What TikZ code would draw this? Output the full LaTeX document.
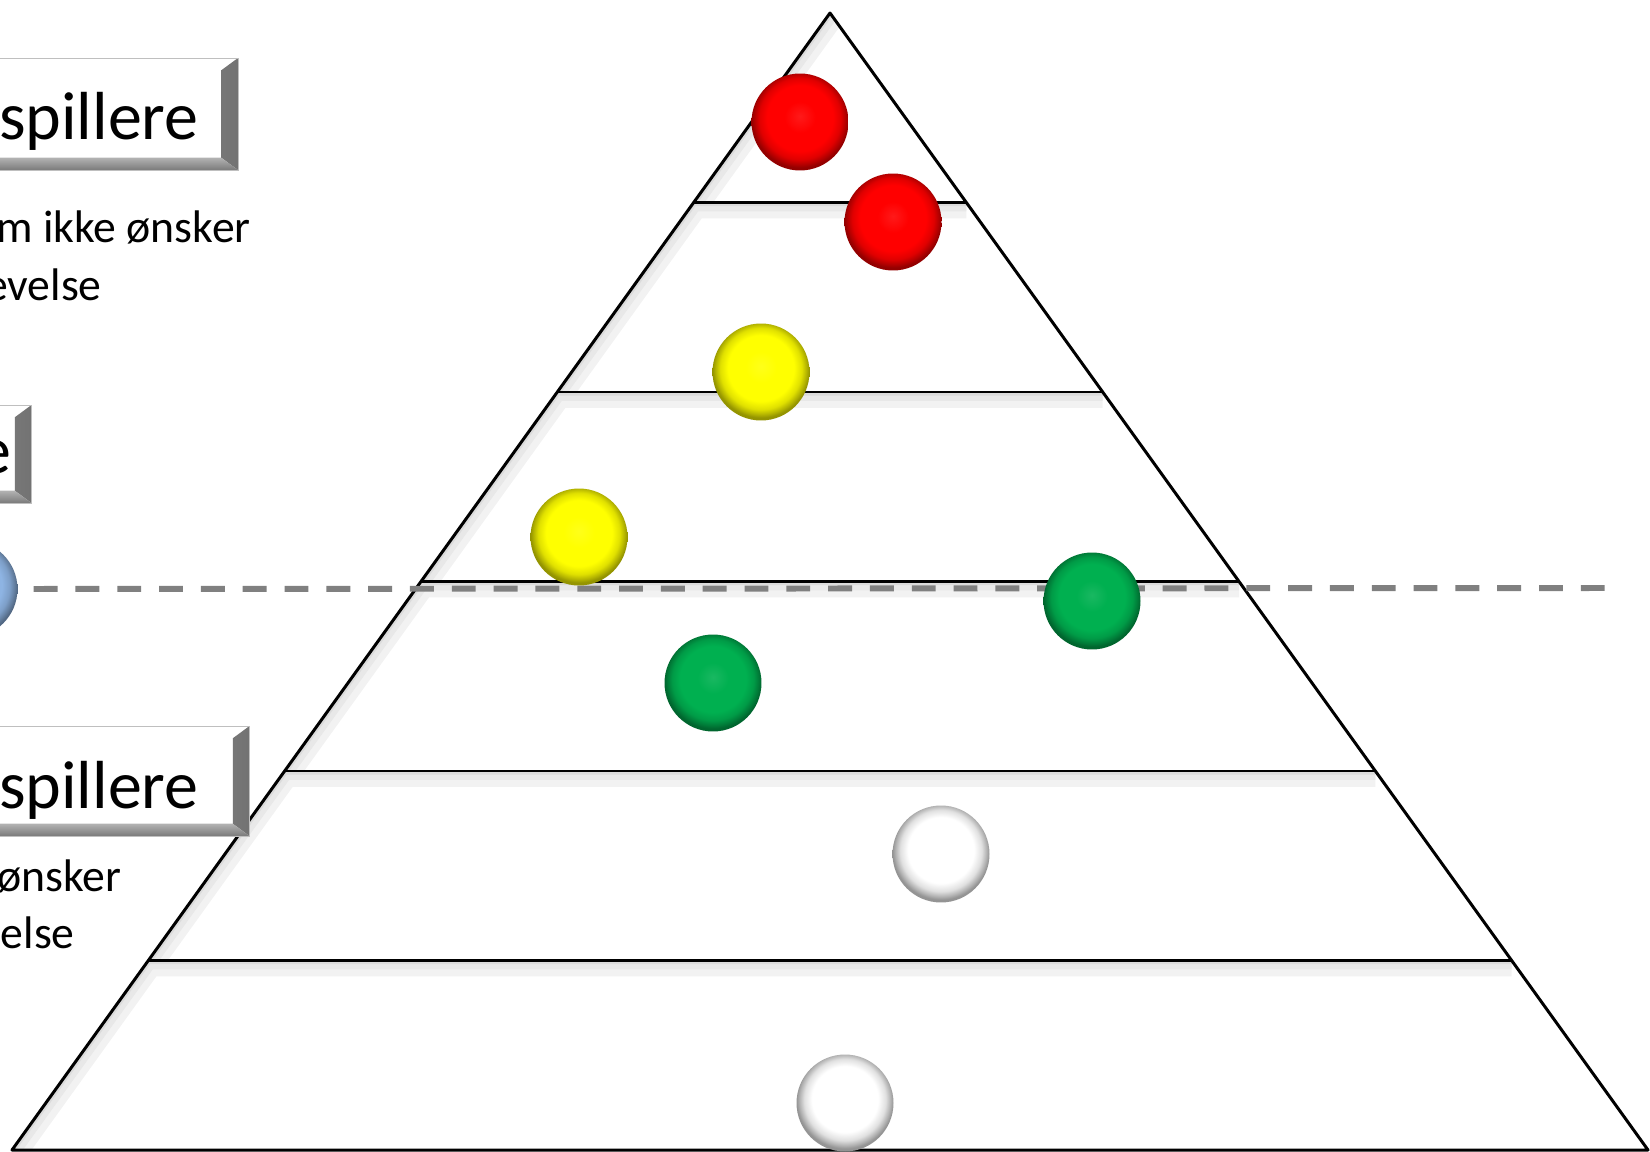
\documentclass[tikz,border=0pt]{standalone}
\usepackage{fontspec}
\setmainfont{Carlito}
\usetikzlibrary{positioning,calc}
\definecolor{ballblue}{RGB}{142,180,227}
\definecolor{ballgreen}{RGB}{0,176,80}
\definecolor{ballred}{RGB}{255,0,0}
\definecolor{ballyellow}{RGB}{255,255,0}
\definecolor{ballwhite}{RGB}{255,255,255}
% glossy button: flat face, darker rim towards the bottom (circle edge = 25bp)
\pgfdeclareradialshading[btncol]{button}{\pgfpoint{0bp}{3bp}}{%
  color(0bp)=(btncol!90!white); color(8bp)=(btncol); color(17bp)=(btncol);
  color(21bp)=(btncol!88!black); color(23.5bp)=(btncol!70!black); color(25bp)=(btncol!58!black);
  color(50bp)=(btncol!58!black)}
\tikzset{
  pyr/.style={line width=1.7pt,black,line join=round},
  tiershade/.style={line width=18pt,black!5,
    postaction={draw,line width=10pt,black!9},
    postaction={draw,line width=4pt,black!14}},
  dashline/.style={draw=black!50,line width=3.4pt,dash pattern=on 13.6pt off 10.2pt},
  ball/.style={circle,minimum size=1.94cm,inner sep=0pt,
    /utils/exec={\colorlet{btncol}{#1}},shading=button},
  bevelbox/.style={rectangle,inner sep=0pt,fill=white,draw=black!25,line width=0.4pt,
    path picture={
      \shade[left color=black!22,right color=black!55]
        ([xshift=-9.5pt,yshift=-7pt]path picture bounding box.north east)
        -- (path picture bounding box.north east)
        -- (path picture bounding box.south east)
        -- ([xshift=-9.5pt,yshift=7pt]path picture bounding box.south east) -- cycle;
      \shade[top color=black!30,bottom color=black!52]
        ([yshift=7pt]path picture bounding box.south west)
        -- ([xshift=-9.5pt,yshift=7pt]path picture bounding box.south east)
        -- (path picture bounding box.south east)
        -- (path picture bounding box.south west) -- cycle;
    }},
  titletext/.style={font=\fontsize{38.7}{46}\selectfont,inner sep=0pt,anchor=base east},
  bodytext/.style={font=\fontsize{26}{31}\selectfont,inner sep=0pt,anchor=base east},
}

\begin{document}
\begin{tikzpicture}[x=0.02cm,y=-0.02cm]
  \useasboundingbox (0,0) rectangle (1650,1152);
  \clip (0,0) rectangle (1650,1152);
  % pyramid
  \coordinate (apex) at (830,13);
  \coordinate (baseL) at (12,1150);
  \coordinate (baseR) at (1648,1150);
  \foreach \k in {0,...,5}{
    \pgfmathsetmacro\yt{13+189.5*\k}
    \pgfmathsetmacro\yb{13+189.5*(\k+1)}
    \pgfmathsetmacro\wt{0.71944*189.5*\k}
    \pgfmathsetmacro\wb{0.71944*189.5*(\k+1)}
    \begin{scope}
      \clip (830-\wt,\yt) -- (830+\wt,\yt) -- (830+\wb,\yb) -- (830-\wb,\yb) -- cycle;
      \draw[tiershade] (830+\wt,\yt) -- (830-\wt,\yt) -- (830-\wb,\yb);
    \end{scope}
  }
  \draw[pyr] (apex) -- (baseR) -- (baseL) -- cycle;
  \foreach \k in {1,...,5}{
    \pgfmathsetmacro\yl{13+189.5*\k}
    \pgfmathsetmacro\wl{0.71944*189.5*\k}
    \draw[pyr] (830-\wl,\yl) -- (830+\wl,\yl);
  }
  % cut line
  \node[ball=ballblue] (blue) at (-31,589) {};
  \coordinate (dashend) at (1605,588);
  \draw[dashline,shorten <=9pt] (blue.east) -- (dashend);
  % balls
  \node[ball=ballred] (red1) at (800,122) {};
  \node[ball=ballred] (red2) at (893,222) {};
  \node[ball=ballyellow] (yel1) at (761,372) {};
  \node[ball=ballyellow] (yel2) at (579,537) {};
  \node[ball=ballgreen] (grn1) at (1092,601) {};
  \node[ball=ballgreen] (grn2) at (713,683) {};
  \node[ball=ballwhite] (wht1) at (941,854) {};
  \node[ball=ballwhite] (wht2) at (845,1103) {};
  % labels on the left
  \node[bevelbox,minimum width=7.76cm,minimum height=2.24cm] (boxTop) at (44,114) {};
  \node[titletext] (tTop) at (199,140) {spillere};
  \node[bodytext] (bTop1) at (251,243) {m ikke ønsker};
  \node[bodytext] (bTop2) at (102,300) {evelse};
  \node[bevelbox,minimum width=6.62cm,minimum height=1.96cm] (boxMid) at (-134,454) {};
  \node[titletext] (tMid) at (12,473) {e};
  \node[bevelbox,minimum width=7.98cm,minimum height=2.2cm] (boxBot) at (50,781) {};
  \node[titletext] (tBot) at (199,808) {spillere};
  \node[bodytext] (bBot1) at (122,891) {ønsker};
  \node[bodytext] (bBot2) at (75,948) {else};
\end{tikzpicture}
\end{document}
